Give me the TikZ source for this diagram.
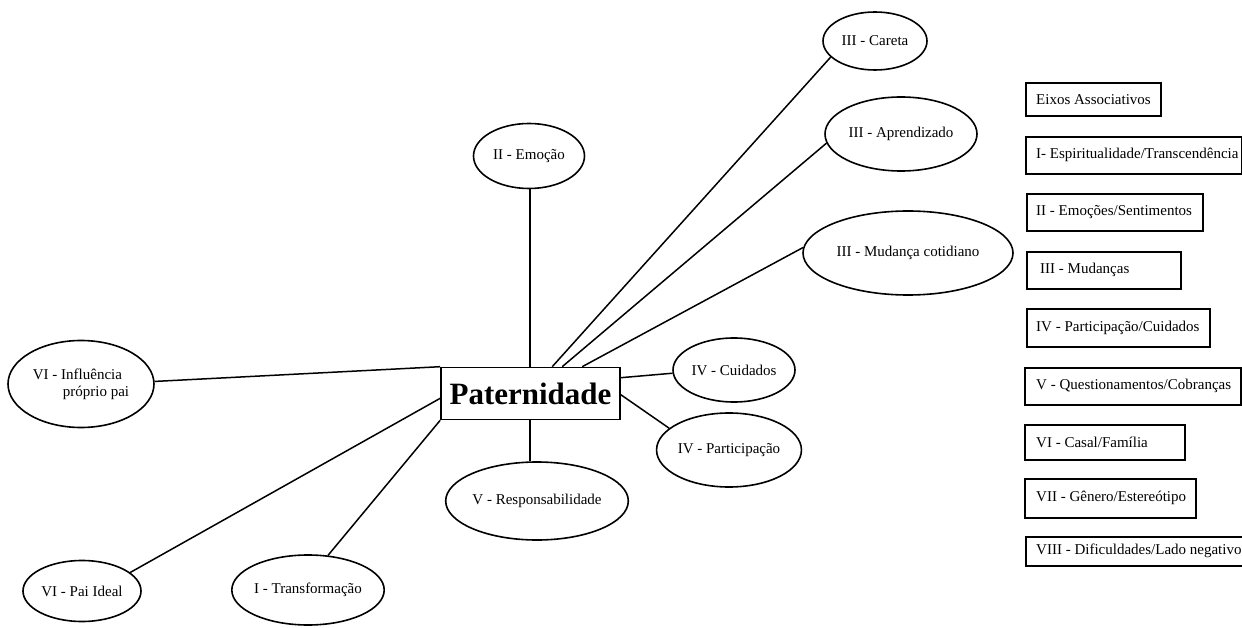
\documentclass[tikz,border=0pt]{standalone}
\usepackage{fontspec}
\setmainfont{Liberation Serif}
\usetikzlibrary{shapes.geometric,calc}
\tikzset{
  ell/.style={ellipse, draw, line width=1.6pt, inner sep=0pt, font=\fontsize{15}{17}\selectfont},
  legbox/.style={draw, line width=1.6pt, inner sep=0pt, anchor=north west},
  legtext/.style={anchor=west, inner sep=0pt, font=\fontsize{15}{17}\selectfont},
  conn/.style={line width=1.5pt},
  mainbox/.style={draw, line width=1.6pt, inner sep=0pt, minimum width=179pt, minimum height=52pt, font=\fontsize{31}{34}\selectfont\bfseries}
}
\begin{document}
\begin{tikzpicture}[x=1pt,y=-1pt]
\useasboundingbox[fill=white] (0,0) rectangle (1242,628);

% central box
\node[mainbox] (pat) at (530.5,393.5) {Paternidade};

% ellipses
\node[ell, minimum width=104pt, minimum height=58pt] (careta) at (875,41) {III - Careta};
\node[ell, minimum width=152pt, minimum height=74pt] (aprend) at (901,134) {III - Aprendizado};
\node[ell, minimum width=210pt, minimum height=84pt] (mud) at (908,253) {III - Mudança cotidiano};
\node[ell, minimum width=111pt, minimum height=65pt] (emo) at (529,156) {II - Emoção};
\node[ell, minimum width=122pt, minimum height=64pt] (cuid) at (734,370) {IV - Cuidados};
\node[ell, minimum width=142pt, minimum height=74pt] (part) at (729,450) {IV - Participação};
\node[ell, minimum width=168pt, minimum height=78pt] (resp) at (537,501) {V - Responsabilidade};
\node[ell, minimum width=146pt, minimum height=87pt, align=left] (infl) at (81,384) {VI - Influência\\\hspace*{30pt}próprio pai};
\node[ell, minimum width=118pt, minimum height=61pt] (pai) at (82,591) {VI - Pai Ideal};
\node[ell, minimum width=150pt, minimum height=70pt] (trans) at (308,590) {I - Transformação};

% connectors
\draw[conn] (emo.south -| 530,0) -- (pat.north -| 530,0);
\draw[conn] (pat.south -| 530,0) -- (resp.north -| 530,0);
\draw[conn] ($(pat.north west)+(112,0)$) -- (careta.200);
\draw[conn] ($(pat.north west)+(122,0)$) -- (aprend.187);
\draw[conn] ($(pat.north west)+(142,0)$) -- (mud.177);
\draw[conn] ($(pat.north east)+(0,11)$) -- (cuid.183);
\draw[conn] ($(pat.north east)+(0,28)$) -- (part.160);
\draw[conn] (infl.2) -- (pat.north west);
\draw[conn] (pai.21) -- ($(pat.south west)+(0,-22)$);
\draw[conn] (trans.60) -- (pat.south west);

% legend
\node[legbox, minimum width=135pt, minimum height=33pt] (l0) at (1025,82) {};
\node[legtext] (t0) at ([xshift=11pt]l0.west) {Eixos Associativos};
\node[legbox, minimum width=216pt, minimum height=37pt] (l1) at (1025,136) {};
\node[legtext] (t1) at ([xshift=11pt]l1.west) {I- Espiritualidade/Transcendência};
\node[legbox, minimum width=176pt, minimum height=37pt] (l2) at (1026,193) {};
\node[legtext] (t2) at ([xshift=10pt]l2.west) {II - Emoções/Sentimentos};
\node[legbox, minimum width=154pt, minimum height=37pt] (l3) at (1026,251) {};
\node[legtext] (t3) at ([xshift=14pt]l3.west) {III - Mudanças};
\node[legbox, minimum width=183pt, minimum height=38pt] (l4) at (1026,308) {};
\node[legtext] (t4) at ([xshift=10pt]l4.west) {IV - Participação/Cuidados};
\node[legbox, minimum width=216pt, minimum height=37pt] (l5) at (1024,367) {};
\node[legtext] (t5) at ([xshift=12pt]l5.west) {V - Questionamentos/Cobranças};
\node[legbox, minimum width=160pt, minimum height=35pt] (l6) at (1024,424) {};
\node[legtext] (t6) at ([xshift=12pt]l6.west) {VI - Casal/Família};
\node[legbox, minimum width=171pt, minimum height=39pt] (l7) at (1024,478) {};
\node[legtext] (t7) at ([xshift=12pt]l7.west) {VII - Gênero/Estereótipo};
\node[legbox, minimum width=217pt, minimum height=29pt] (l8) at (1025,536) {};
\node[legtext] (t8) at ([xshift=11pt]l8.west) {VIII - Dificuldades/Lado negativo};
\end{tikzpicture}
\end{document}
